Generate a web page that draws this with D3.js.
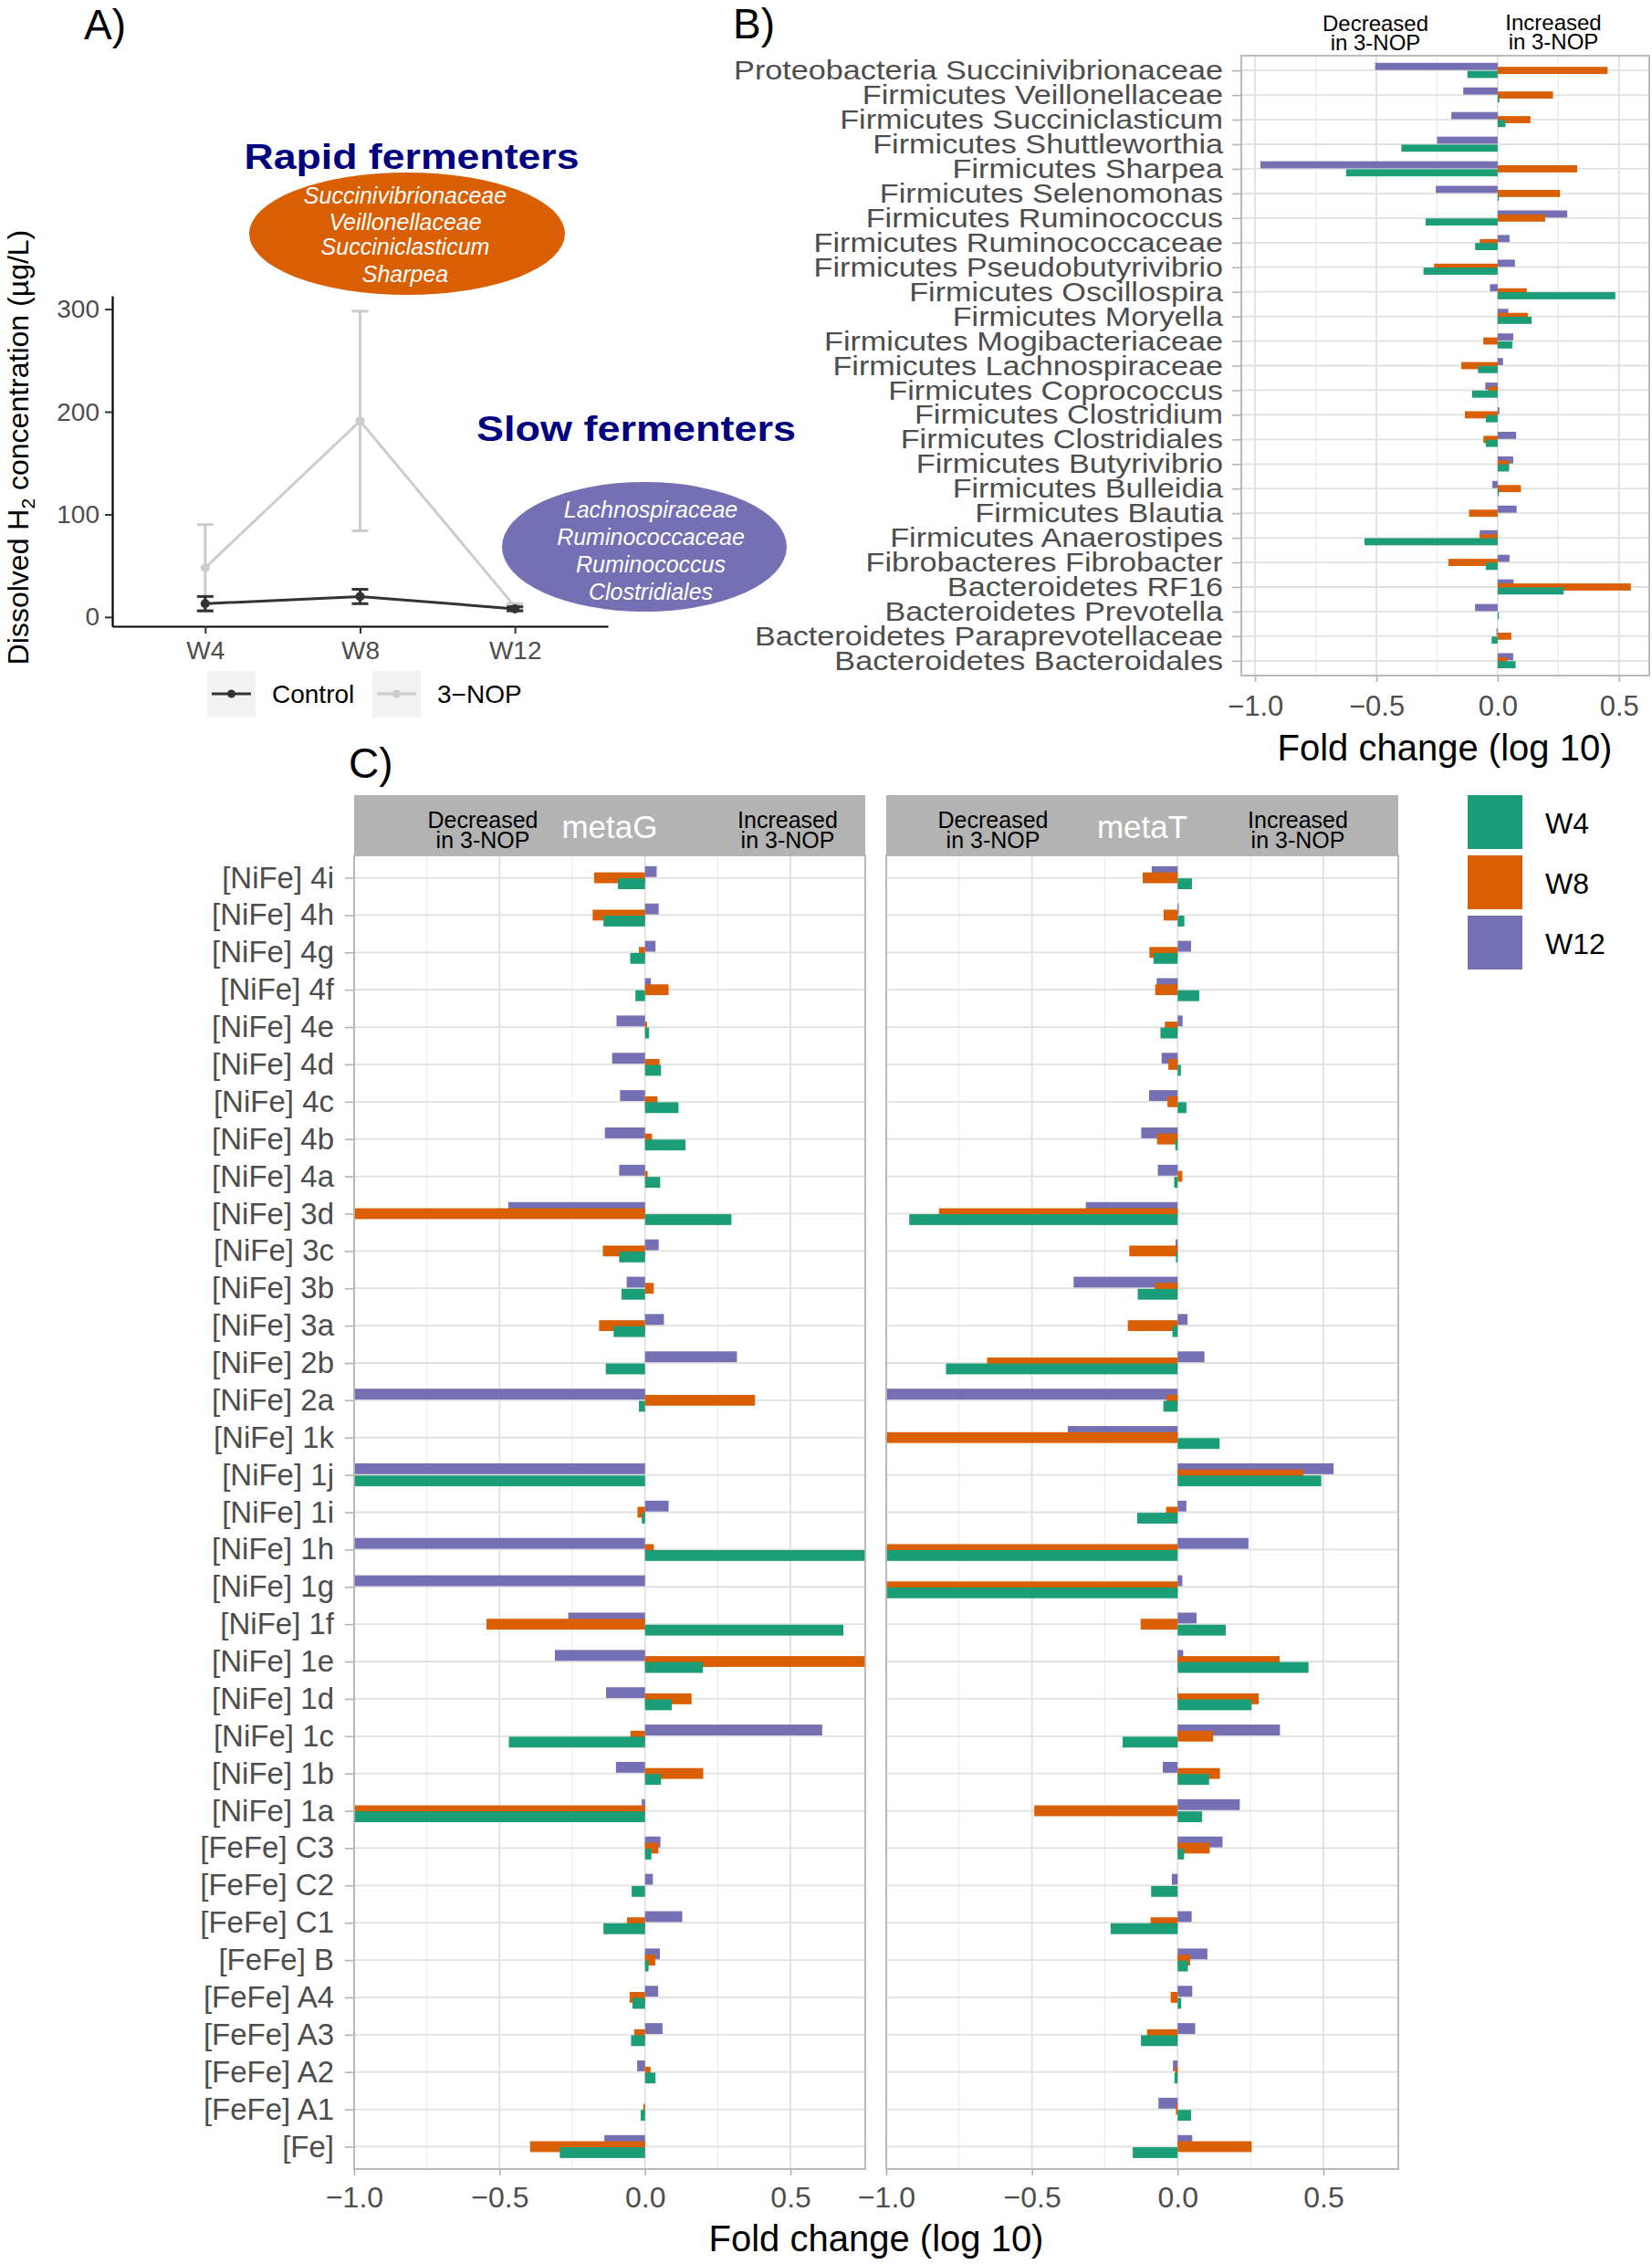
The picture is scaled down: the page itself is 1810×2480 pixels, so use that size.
<!DOCTYPE html>
<html>
<head>
<meta charset="utf-8">
<script src="https://cdn.jsdelivr.net/npm/d3@7"></script>
<style>
  body { margin: 0; background: #fff; }
  text { font-family: "Liberation Sans", Arial, sans-serif; }
</style>
</head>
<body>
<div id="chart"></div>
<script>
// ---- data: panel A (dissolved H2) ----
const weeks = ["W4", "W8", "W12"];
const h2Control = [13, 20, 8];
const h2ControlSd = [7, 7, 2];
const h2Nop = [48, 191, 10];
const h2NopSd = [42, 107, 3];
const h2Ticks = [0, 100, 200, 300];

// ---- data: panel B (taxa fold change) ----
const taxa = [
  "Proteobacteria Succinivibrionaceae", "Firmicutes Veillonellaceae", "Firmicutes Succiniclasticum",
  "Firmicutes Shuttleworthia", "Firmicutes Sharpea", "Firmicutes Selenomonas", "Firmicutes Ruminococcus",
  "Firmicutes Ruminococcaceae", "Firmicutes Pseudobutyrivibrio", "Firmicutes Oscillospira",
  "Firmicutes Moryella", "Firmicutes Mogibacteriaceae", "Firmicutes Lachnospiraceae",
  "Firmicutes Coprococcus", "Firmicutes Clostridium", "Firmicutes Clostridiales", "Firmicutes Butyrivibrio",
  "Firmicutes Bulleidia", "Firmicutes Blautia", "Firmicutes Anaerostipes", "Fibrobacteres Fibrobacter",
  "Bacteroidetes RF16", "Bacteroidetes Prevotella", "Bacteroidetes Paraprevotellaceae",
  "Bacteroidetes Bacteroidales"
];
const taxaW12 = [-0.505, -0.142, -0.191, -0.25, -0.978, -0.255, 0.287, 0.049, 0.071, -0.032, 0.044, 0.064, 0.022,
  -0.051, 0.007, 0.076, 0.064, -0.022, 0.078, -0.074, 0.049, 0.066, -0.093, -0.005, 0.064];
const taxaW8 = [0.453, 0.228, 0.135, 0, 0.328, 0.257, 0.196, -0.074, -0.262, 0.12, 0.125, -0.059, -0.15,
  -0.039, -0.135, -0.059, 0.047, 0.096, -0.118, -0.074, -0.203, 0.549, 0, 0.056, 0.039];
const taxaW4 = [-0.125, 0.007, 0.032, -0.397, -0.625, 0.005, -0.297, -0.093, -0.306, 0.485, 0.14, 0.061, -0.081,
  -0.105, -0.049, -0.049, 0.047, 0.005, 0, -0.549, -0.049, 0.272, 0.005, -0.025, 0.074];
const taxaTicks = [-1, -0.5, 0, 0.5];

// ---- data: panel C (hydrogenases) ----
const hydrogenases = [
  "[NiFe] 4i", "[NiFe] 4h", "[NiFe] 4g", "[NiFe] 4f", "[NiFe] 4e", "[NiFe] 4d", "[NiFe] 4c", "[NiFe] 4b",
  "[NiFe] 4a", "[NiFe] 3d", "[NiFe] 3c", "[NiFe] 3b", "[NiFe] 3a", "[NiFe] 2b", "[NiFe] 2a", "[NiFe] 1k",
  "[NiFe] 1j", "[NiFe] 1i", "[NiFe] 1h", "[NiFe] 1g", "[NiFe] 1f", "[NiFe] 1e", "[NiFe] 1d", "[NiFe] 1c",
  "[NiFe] 1b", "[NiFe] 1a", "[FeFe] C3", "[FeFe] C2", "[FeFe] C1", "[FeFe] B", "[FeFe] A4", "[FeFe] A3",
  "[FeFe] A2", "[FeFe] A1", "[Fe]"
];
const metaGW12 = [0.04, 0.047, 0.036, 0.02, -0.098, -0.113, -0.086, -0.138, -0.089, -0.47, 0.047, -0.063, 0.065,
  0.316, -1, 0, -1, 0.081, -1, -1, -0.264, -0.31, -0.134, 0.609, -0.1, -0.011, 0.053, 0.027, 0.128, 0.051,
  0.045, 0.06, -0.027, 0, -0.14];
const metaGW8 = [-0.175, -0.18, -0.021, 0.081, 0.007, 0.05, 0.043, 0.024, 0.009, -1, -0.145, 0.03, -0.158,
  0, 0.378, 0, 0, -0.026, 0.03, 0, -0.545, 0.76, 0.16, -0.05, 0.2, -1, 0.046, 0, -0.062, 0.035,
  -0.053, -0.037, 0.019, -0.006, -0.395];
const metaGW4 = [-0.093, -0.143, -0.051, -0.033, 0.014, 0.055, 0.115, 0.139, 0.052, 0.297, -0.089, -0.081, -0.108,
  -0.135, -0.021, 0, -1, -0.011, 0.76, 0, 0.682, 0.199, 0.092, -0.468, 0.055, -1, 0.022, -0.046, -0.143, 0.012,
  -0.043, -0.048, 0.036, -0.015, -0.293];
const metaTW12 = [-0.089, 0.004, 0.046, -0.072, 0.017, -0.055, -0.098, -0.125, -0.068, -0.315, -0.007, -0.357, 0.034,
  0.092, -1, -0.377, 0.535, 0.03, 0.243, 0.016, 0.065, 0.019, 0.002, 0.351, -0.051, 0.213, 0.154, -0.02, 0.048, 0.102,
  0.05, 0.06, -0.016, -0.066, 0.05];
const metaTW8 = [-0.12, -0.048, -0.097, -0.077, -0.044, -0.032, -0.035, -0.071, 0.016, -0.819, -0.166, -0.078, -0.171,
  -0.654, -0.038, -1, 0.432, -0.04, -1, -1, -0.127, 0.35, 0.278, 0.122, 0.145, -0.492, 0.11, 0, -0.093, 0.043,
  -0.024, -0.105, -0.008, -0.006, 0.254];
const metaTW4 = [0.049, 0.023, -0.083, 0.074, -0.059, 0.011, 0.03, -0.008, -0.012, -0.921, -0.006, -0.137, -0.018,
  -0.795, -0.049, 0.144, 0.493, -0.139, -1, -1, 0.165, 0.449, 0.254, -0.189, 0.108, 0.084, 0.022, -0.091, -0.23, 0.035,
  0.012, -0.126, -0.011, 0.046, -0.154];
const foldTicks = [-1, -0.5, 0, 0.5];
const foldMinor = [-0.75, -0.25, 0.25];

const weekColors = { W4: "#1b9e77", W8: "#d95f02", W12: "#7570b3" };
// drawing order and vertical shift (fraction of a row) of the dodged bars
const barSeries = [
  { name: "W12", shift: -0.165 },
  { name: "W8", shift: 0 },
  { name: "W4", shift: 0.16 }
];

const svg = d3.select("#chart")
  .append("svg")
  .attr("width", 1810)
  .attr("height", 2480);
svg.append("rect").attr("width", 1810).attr("height", 2480).attr("fill", "#fff");

const fmt = d3.format(".1f");

// ---- helpers ----
function grid(g, x, y, cats, x0, x1, y0, y1) {
  g.append("g").selectAll("line").data(foldMinor).join("line")
    .attr("x1", d => x(d)).attr("x2", d => x(d)).attr("y1", y0).attr("y2", y1)
    .attr("stroke", "#ececec").attr("stroke-width", 1.2);
  g.append("g").selectAll("line").data(foldTicks).join("line")
    .attr("x1", d => x(d)).attr("x2", d => x(d)).attr("y1", y0).attr("y2", y1)
    .attr("stroke", "#e0e0e0").attr("stroke-width", 1.8);
  g.append("g").selectAll("line").data(cats).join("line")
    .attr("x1", x0).attr("x2", x1).attr("y1", d => y(d)).attr("y2", d => y(d))
    .attr("stroke", "#e0e0e0").attr("stroke-width", 1.8);
}

function bars(g, x, y, cats, vals) {
  const step = y.step();
  const h = step * 0.29;
  barSeries.forEach(s => {
    g.append("g").selectAll("rect")
      .data(cats.map((c, i) => ({ c, v: vals[s.name][i] })))
      .join("rect")
      .attr("x", d => Math.min(x(0), x(d.v)))
      .attr("width", d => Math.abs(x(d.v) - x(0)))
      .attr("y", d => y(d.c) + s.shift * step - h / 2)
      .attr("height", h)
      .attr("fill", weekColors[s.name]);
  });
}

function styleAxis(sel, size, color) {
  sel.select(".domain").remove();
  sel.selectAll(".tick line").attr("stroke", "#b3b3b3").attr("stroke-width", 1.6);
  sel.selectAll(".tick text").attr("font-size", size).attr("fill", color)
    .attr("font-family", "'Liberation Sans', Arial, sans-serif");
}

function twoLine(g, cx, y1, y2, l1, l2, size, color) {
  const t = g.append("text").attr("text-anchor", "middle")
    .attr("font-family", "'DejaVu Sans', Verdana, sans-serif")
    .attr("font-size", size).attr("fill", color);
  t.append("tspan").attr("x", cx).attr("y", y1).text(l1);
  t.append("tspan").attr("x", cx).attr("y", y2).text(l2);
}

// ---- panel labels ----
[["A)", 92, 43], ["B)", 803, 42], ["C)", 382, 852]].forEach(([t, x, y]) => {
  svg.append("text").attr("x", x).attr("y", y).attr("font-size", 46).attr("fill", "#000").text(t);
});

// ================= Panel A =================
const gA = svg.append("g");
const xA = d3.scalePoint().domain(weeks).range([123, 666]).padding(0.6);
const yA = d3.scaleLinear().domain([-9, 313]).range([686, 324]);

const axA = gA.append("g").attr("transform", "translate(0,686)")
  .call(d3.axisBottom(xA).tickSize(8).tickSizeOuter(0).tickPadding(8));
axA.select(".domain").attr("stroke", "#000").attr("stroke-width", 2.2);
axA.selectAll(".tick line").attr("stroke", "#333").attr("stroke-width", 2);
axA.selectAll(".tick text").attr("font-size", 28).attr("fill", "#4d4d4d");

const ayA = gA.append("g").attr("transform", "translate(123,0)")
  .call(d3.axisLeft(yA).tickValues(h2Ticks).tickSize(8).tickSizeOuter(0).tickPadding(6));
ayA.select(".domain").attr("stroke", "#000").attr("stroke-width", 2.2);
ayA.selectAll(".tick line").attr("stroke", "#333").attr("stroke-width", 2);
ayA.selectAll(".tick text").attr("font-size", 28).attr("fill", "#4d4d4d");

const yTitle = gA.append("text")
  .attr("transform", "translate(31,490) rotate(-90)")
  .attr("text-anchor", "middle").attr("font-size", 32).attr("fill", "#000");
yTitle.append("tspan").text("Dissolved H");
yTitle.append("tspan").attr("font-size", 21).attr("dy", 7).text("2");
yTitle.append("tspan").attr("dy", -7).text(" concentration (µg/L)");

const groupsA = [
  { mean: h2Nop, sd: h2NopSd, color: "#cccccc" },
  { mean: h2Control, sd: h2ControlSd, color: "#333333" }
];
groupsA.forEach(gr => {
  const pts = weeks.map((w, i) => ({ w, m: gr.mean[i], s: gr.sd[i] }));
  gA.append("path").datum(pts)
    .attr("d", d3.line().x(d => xA(d.w)).y(d => yA(d.m)))
    .attr("fill", "none").attr("stroke", gr.color).attr("stroke-width", 3);
  const eb = gA.append("g").selectAll("g").data(pts).join("g")
    .attr("stroke", gr.color).attr("stroke-width", 3);
  eb.append("line").attr("x1", d => xA(d.w)).attr("x2", d => xA(d.w))
    .attr("y1", d => yA(d.m - d.s)).attr("y2", d => yA(d.m + d.s));
  eb.append("line").attr("x1", d => xA(d.w) - 9).attr("x2", d => xA(d.w) + 9)
    .attr("y1", d => yA(d.m - d.s)).attr("y2", d => yA(d.m - d.s));
  eb.append("line").attr("x1", d => xA(d.w) - 9).attr("x2", d => xA(d.w) + 9)
    .attr("y1", d => yA(d.m + d.s)).attr("y2", d => yA(d.m + d.s));
  gA.append("g").selectAll("circle").data(pts).join("circle")
    .attr("cx", d => xA(d.w)).attr("cy", d => yA(d.m)).attr("r", 5).attr("fill", gr.color);
});

// legend A
[["Control", "#333333", 227], ["3\u2212NOP", "#cccccc", 408]].forEach(([lab, col, x]) => {
  gA.append("rect").attr("x", x).attr("y", 735).attr("width", 53).attr("height", 51).attr("fill", "#f2f2f2");
  gA.append("line").attr("x1", x + 5).attr("x2", x + 48).attr("y1", 760).attr("y2", 760)
    .attr("stroke", col).attr("stroke-width", 3);
  gA.append("circle").attr("cx", x + 26.5).attr("cy", 760).attr("r", 4.5).attr("fill", col);
  gA.append("text").attr("x", x + 71).attr("y", 770).attr("font-size", 28).attr("fill", "#000").text(lab);
});

// fermenter annotations
const annot = [
  { title: "Rapid fermenters", tx: 451, ty: 185, tw: 367, cx: 446, cy: 256, rx: 173, ry: 67, fill: "#d95f02",
    names: ["Succinivibrionaceae", "Veillonellaceae", "Succiniclasticum", "Sharpea"], nx: 444, ny: [223, 252, 279, 309] },
  { title: "Slow fermenters", tx: 697, ty: 483, tw: 350, cx: 706, cy: 599, rx: 156, ry: 71, fill: "#7570b3",
    names: ["Lachnospiraceae", "Ruminococcaceae", "Ruminococcus", "Clostridiales"], nx: 713, ny: [567, 597, 627, 657] }
];
annot.forEach(a => {
  gA.append("text").attr("x", a.tx).attr("y", a.ty).attr("text-anchor", "middle")
    .attr("font-family", "'DejaVu Sans', Verdana, sans-serif").attr("font-weight", "bold")
    .attr("font-size", 38).attr("textLength", a.tw).attr("lengthAdjust", "spacingAndGlyphs")
    .attr("fill", "#000080").text(a.title);
  gA.append("ellipse").attr("cx", a.cx).attr("cy", a.cy).attr("rx", a.rx).attr("ry", a.ry).attr("fill", a.fill);
  a.names.forEach((n, i) => {
    gA.append("text").attr("x", a.nx).attr("y", a.ny[i]).attr("text-anchor", "middle")
      .attr("font-style", "italic").attr("font-size", 25).attr("fill", "#fff").text(n);
  });
});

// ================= Panel B =================
const gB = svg.append("g");
const xB = d3.scaleLinear().domain([-1.057, 0.625]).range([1360, 1807]);
const yB = d3.scalePoint().domain(taxa).range([61, 740]).padding(0.6);

grid(gB, xB, yB, taxa, 1360, 1807, 61, 740);
bars(gB, xB, yB, taxa, { W4: taxaW4, W8: taxaW8, W12: taxaW12 });
gB.append("rect").attr("x", 1360).attr("y", 61).attr("width", 447).attr("height", 679)
  .attr("fill", "none").attr("stroke", "#b3b3b3").attr("stroke-width", 1.8);

const ayB = gB.append("g").attr("transform", "translate(1360,0)")
  .call(d3.axisLeft(yB).tickSize(10).tickPadding(10));
styleAxis(ayB, 30, "#4d4d4d");
ayB.selectAll(".tick text").attr("x", -20 / 1.14).attr("transform", "scale(1.14,1)");

const axB = gB.append("g").attr("transform", "translate(0,740)")
  .call(d3.axisBottom(xB).tickValues(taxaTicks).tickFormat(fmt).tickSize(7).tickPadding(15));
styleAxis(axB, 31, "#4d4d4d");

gB.append("text").attr("x", 1583).attr("y", 833).attr("text-anchor", "middle")
  .attr("font-size", 40).attr("fill", "#000").text("Fold change (log 10)");
twoLine(gB, 1507, 34, 55, "Decreased", "in 3-NOP", 24, "#000");
twoLine(gB, 1702, 33, 54, "Increased", "in 3-NOP", 24, "#000");

// ================= Panel C =================
const gC = svg.append("g");
const yC = d3.scalePoint().domain(hydrogenases).range([937, 2376]).padding(0.6);
const facets = [
  { name: "metaG", x0: 388, x1: 948, dec: 529, inc: 863,
    vals: { W4: metaGW4, W8: metaGW8, W12: metaGW12 } },
  { name: "metaT", x0: 971, x1: 1532, dec: 1088, inc: 1422,
    vals: { W4: metaTW4, W8: metaTW8, W12: metaTW12 } }
];
facets.forEach((f, fi) => {
  const x = d3.scaleLinear().domain([-1, 0.757]).range([f.x0, f.x1]).clamp(true);
  const g = gC.append("g");
  grid(g, x, yC, hydrogenases, f.x0, f.x1, 937, 2376);
  bars(g, x, yC, hydrogenases, f.vals);
  g.append("rect").attr("x", f.x0).attr("y", 937).attr("width", f.x1 - f.x0).attr("height", 2376 - 937)
    .attr("fill", "none").attr("stroke", "#b3b3b3").attr("stroke-width", 1.8);
  // strip
  g.append("rect").attr("x", f.x0).attr("y", 871).attr("width", f.x1 - f.x0).attr("height", 66)
    .attr("fill", "#b3b3b3");
  g.append("text").attr("x", (f.x0 + f.x1) / 2).attr("y", 918).attr("text-anchor", "middle")
    .attr("font-family", "'DejaVu Sans', Verdana, sans-serif")
    .attr("font-size", 35).attr("fill", "#fff").text(f.name);
  twoLine(g, f.dec, 907, 929, "Decreased", "in 3-NOP", 25, "#000");
  twoLine(g, f.inc, 907, 929, "Increased", "in 3-NOP", 25, "#000");

  const ax = g.append("g").attr("transform", "translate(0,2376)")
    .call(d3.axisBottom(x).tickValues(foldTicks).tickFormat(fmt).tickSize(7).tickPadding(12));
  styleAxis(ax, 32, "#4d4d4d");

  if (fi === 0) {
    const ay = g.append("g").attr("transform", `translate(${f.x0},0)`)
      .call(d3.axisLeft(yC).tickSize(10).tickPadding(12));
    styleAxis(ay, 33, "#4d4d4d");
  }
});
gC.append("text").attr("x", 960).attr("y", 2466).attr("text-anchor", "middle")
  .attr("font-size", 40).attr("fill", "#000").text("Fold change (log 10)");

// shared legend
["W4", "W8", "W12"].forEach((w, i) => {
  const y = 871 + i * 66;
  svg.append("rect").attr("x", 1608).attr("y", y).attr("width", 60).attr("height", 59)
    .attr("fill", weekColors[w]);
  svg.append("text").attr("x", 1693).attr("y", y + 42).attr("font-size", 32).attr("fill", "#000").text(w);
});
</script>
</body>
</html>
